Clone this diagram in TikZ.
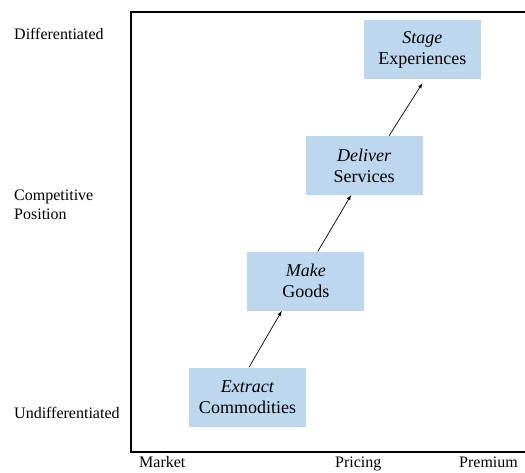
\documentclass[tikz,border=0pt]{standalone}
\usepackage{fontspec}
\setmainfont{Liberation Serif}
\usetikzlibrary{positioning}
\usetikzlibrary{arrows}
\definecolor{boxblue}{RGB}{189,215,238}
\tikzset{offer/.style={fill=boxblue,minimum width=117pt,minimum height=59pt,inner sep=0pt,align=center,font=\fontsize{18}{21}\selectfont}}
\tikzset{axlabel/.style={inner sep=0pt,font=\fontsize{16}{19}\selectfont}}
\tikzset{>=latex}

\begin{document}
\begin{tikzpicture}[x=1pt,y=-1pt]
\useasboundingbox (0,0) rectangle (525,472);
\clip (0,0) rectangle (525,472);

% frame
\draw[line width=1.6pt] (560,12) -- (131,12) -- (131,452) -- (560,452);

\begin{scope}[on grid]
\node[offer] (extract) at (247.5,397) {\textit{Extract}\\Commodities};
\node[offer] (make) [above right=115.8pt and 58.3pt of extract] {\textit{Make}\\Goods};
\node[offer] (deliver) [above right=115.8pt and 58.3pt of make] {\textit{Deliver}\\Services};
\node[offer] (stage) [above right=115.8pt and 58.3pt of deliver] {\textit{Stage}\\Experiences};
\end{scope}

\draw[->,line width=0.7pt] ([xshift=1.5pt]extract.north) -- ([xshift=-24pt]make.south);
\draw[->,line width=0.7pt] ([xshift=12pt]make.north) -- ([xshift=-13pt]deliver.south);
\draw[->,line width=0.7pt] ([xshift=25pt]deliver.north) -- ([yshift=-4pt]stage.south);

% axis labels
\node[axlabel,anchor=west] (diff) at (14,34) {Differentiated};
\node[axlabel,anchor=west,align=left] (comp) at (14,205) {Competitive\\Position};
\node[axlabel,anchor=west] (undiff) at (14,413) {Undifferentiated};
\node[axlabel,anchor=base west] (market) at (139,467.5) {Market};
\node[axlabel,anchor=base west] (pricing) at (335,467.5) {Pricing};
\node[axlabel,anchor=base west] (premium) at (459,467.5) {Premium};

\end{tikzpicture}
\end{document}
